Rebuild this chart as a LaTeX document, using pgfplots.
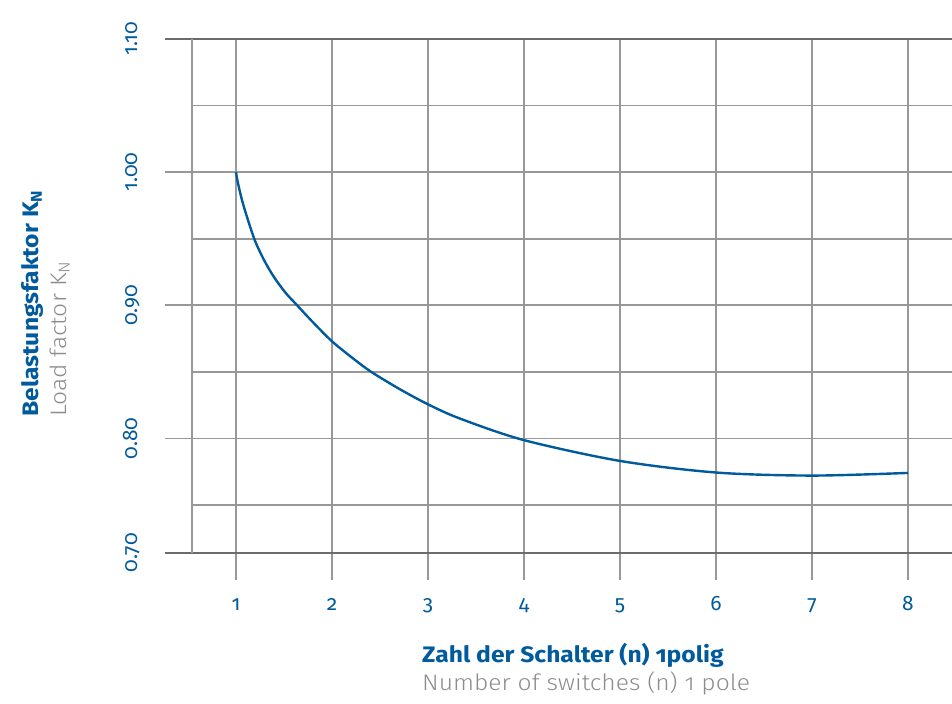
\documentclass[border=0pt]{standalone}
\usepackage{fontspec}
\setmainfont{Fira Sans}[Numbers=OldStyle, FakeStretch=1.1]
\newfontfamily\lightfont{Fira Sans Light}[Numbers=OldStyle, FakeStretch=1.1]
\newfontfamily\tickfont{Fira Sans}[Numbers=OldStyle]
\usepackage{pgfplots}
\pgfplotsset{compat=1.18}
\definecolor{kblue}{RGB}{0,90,155}
\definecolor{kgray}{RGB}{140,140,140}
\definecolor{gridgray}{RGB}{152,152,152}
\definecolor{bordergray}{RGB}{108,108,108}
\pgfplotstableread{
x y
1.000 1.000
1.020 0.992
1.076 0.9755
1.1875 0.9505
1.285 0.935
1.389 0.922
1.510 0.910
1.632 0.9004
1.806 0.887
2.000 0.8730
2.222 0.860
2.410 0.850
2.708 0.837
3.000 0.8257
3.333 0.815
4.000 0.7988
5.000 0.7832
6.000 0.7745
7.000 0.7722
8.000 0.7742
}\kdata
\begin{document}
\begin{tikzpicture}
\useasboundingbox (0bp,0bp) rectangle (952bp,704bp);
\begin{axis}[
  at={(165bp,124bp)}, anchor=south west,
  scale only axis, width=795bp, height=541bp,
  xmin=0.2604, xmax=8.5417, ymin=0.6938, ymax=1.10,
  xtick={1,2,3,4,5,6,7,8},
  xticklabels={1,2,3,4,5,6,7,8},
  ytick={0.8,0.9,1.0},
  yticklabels={0.80,0.90,1.00},
  extra y ticks={0.7143,1.1},
  extra y tick labels={0.70,1.10},
  extra y tick style={grid=major, major grid style={draw=bordergray, line width=1.8bp}},
  xmajorgrids, ymajorgrids,
  major grid style={draw=gridgray, line width=1.8bp},
  major tick length=0pt, minor tick length=0pt,
  tick style={draw=none},
  xtick pos=bottom, ytick pos=left,
  axis line style={draw=none},
  ticklabel style={text=kblue, font=\tickfont\fontsize{21}{25}\selectfont},
  yticklabel style={xshift=-28bp, rotate=90, anchor=base},
  xticklabel style={anchor=base, yshift=-31bp},
]
\addplot[gridgray, line width=1.8bp, no marks] coordinates {(0.5417,0.75) (8.5417,0.75)};
\addplot[gridgray, line width=1.8bp, no marks] coordinates {(0.5417,0.85) (8.5417,0.85)};
\addplot[gridgray, line width=1.8bp, no marks] coordinates {(0.5417,0.95) (8.5417,0.95)};
\addplot[gridgray, line width=1.8bp, no marks] coordinates {(0.5417,1.05) (8.5417,1.05)};
\addplot[gridgray, line width=1.8bp, no marks] coordinates {(0.5417,0.7143) (0.5417,1.10)};
\addplot[kblue, line width=2.4bp, smooth, no marks] table[x=x,y=y] {\kdata};
\end{axis}
\node[anchor=base west, inner sep=0, text=kblue, font=\fontsize{22.5}{26}\selectfont\bfseries] at (422bp,41bp) {Zahl der Schalter (n) 1polig};
\node[anchor=base west, inner sep=0, text=kgray, font=\fontsize{22.5}{26}\selectfont\lightfont] at (422bp,13.3bp) {Number of switches (n) 1 pole};
\node[anchor=base west, inner sep=0, rotate=90, text=kblue, font=\fontsize{22.5}{26}\selectfont\bfseries] at (38bp,287bp) {Belastungsfaktor K\textsubscript{N}};
\node[anchor=base west, inner sep=0, rotate=90, text=kgray, font=\fontsize{22.5}{26}\selectfont\lightfont] at (66bp,287bp) {Load factor K\textsubscript{N}};
\end{tikzpicture}
\end{document}
